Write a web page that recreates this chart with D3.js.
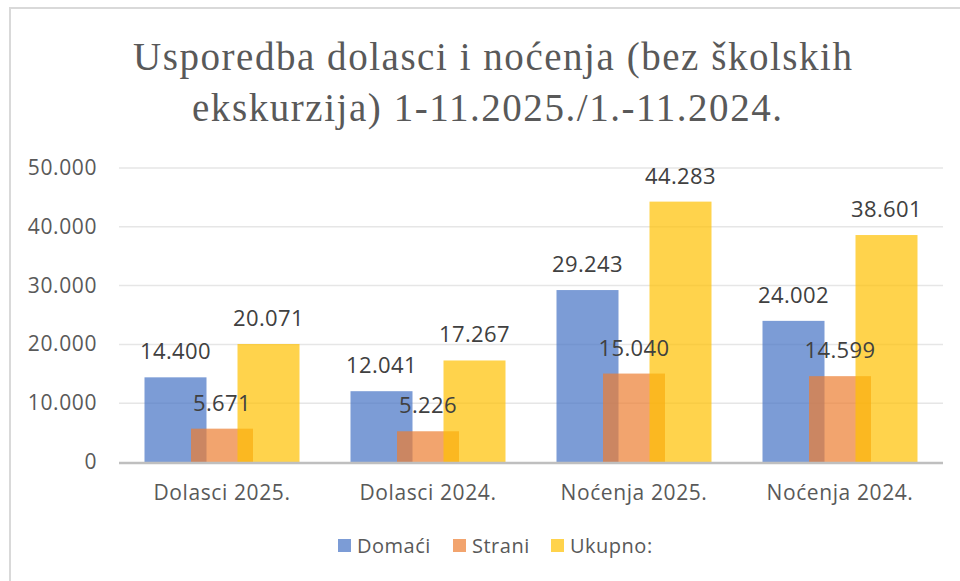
<!DOCTYPE html>
<html>
<head>
<meta charset="utf-8">
<script src="https://cdn.jsdelivr.net/npm/d3@7"></script>
<style>
  body { margin: 0; background: #fff; }
  svg { display: block; }
</style>
</head>
<body>
<script>
var categories = ["Dolasci 2025.", "Dolasci 2024.", "Noćenja 2025.", "Noćenja 2024."];
var seriesNames = ["Domaći", "Strani", "Ukupno:"];
var domaci = [14400, 12041, 29243, 24002];
var strani = [5671, 5226, 15040, 14599];
var ukupno = [20071, 17267, 44283, 38601];
var yTicks = [0, 10000, 20000, 30000, 40000, 50000];
var colors = ["#4472C4", "#ED7D31", "#FFC000"];

var W = 960, H = 581;
var svg = d3.select("body").append("svg").attr("width", W).attr("height", H);

// frame
svg.append("rect").attr("x", 10).attr("y", 8).attr("width", 960).attr("height", 600)
  .attr("fill", "#fff").attr("stroke", "#d9d9d9").attr("stroke-width", 2);

var fmt = d3.formatLocale({decimal: ",", thousands: ".", grouping: [3], currency: ["", ""]}).format(",d");
var sans = "'Open Sans', sans-serif";

// title
var title = svg.append("g").attr("fill", "#595959")
  .style("font-family", "'Liberation Serif', 'DejaVu Serif', serif").style("font-size", "39px");
title.append("text").attr("x", 133).attr("y", 70).attr("textLength", 719).attr("lengthAdjust", "spacing")
  .text("Usporedba dolasci i noćenja (bez školskih");
title.append("text").attr("x", 192).attr("y", 121).attr("textLength", 590).attr("lengthAdjust", "spacing")
  .text("ekskurzija) 1-11.2025./1.-11.2024.");

var x = d3.scaleBand().domain(categories).range([119, 943]);
var y = d3.scaleLinear().domain([0, 50000]).range([462, 168]);

// gridlines
svg.append("g").selectAll("line").data(yTicks.slice(1)).join("line")
  .attr("x1", 119).attr("x2", 943)
  .attr("y1", d => y(d)).attr("y2", d => y(d))
  .attr("stroke", "#e6e6e6").attr("stroke-width", 1.5);

// y labels
svg.append("g").selectAll("text").data(yTicks).join("text")
  .attr("x", 97).attr("y", d => y(d) + 7)
  .attr("text-anchor", "end").attr("fill", "#595959")
  .style("font-family", sans).style("font-size", "21px").style("letter-spacing", "0.6px")
  .text(d => fmt(d));

var series = [domaci, strani, ukupno];
var barW = 62, step = 46.5;

series.forEach(function(vals, si) {
  svg.append("g").selectAll("rect").data(vals).join("rect")
    .attr("x", (d, i) => x(categories[i]) + x.bandwidth() / 2 + (si - 1) * step - barW / 2)
    .attr("y", d => y(d))
    .attr("width", barW)
    .attr("height", d => y(0) - y(d))
    .attr("fill", colors[si]).attr("fill-opacity", 0.7);
});

series.forEach(function(vals, si) {
  svg.append("g").selectAll("text").data(vals).join("text")
    .attr("x", (d, i) => x(categories[i]) + x.bandwidth() / 2 + (si - 1) * step)
    .attr("y", d => y(d) - 18)
    .attr("text-anchor", "middle").attr("fill", "#404040")
    .style("font-family", sans).style("font-size", "22px").style("letter-spacing", "0.4px")
    .text(d => fmt(d));
});

// x axis line
svg.append("line").attr("x1", 119).attr("x2", 943).attr("y1", y(0) + 1).attr("y2", y(0) + 1)
  .attr("stroke", "#bfbfbf").attr("stroke-width", 2.5);

// category labels
svg.append("g").selectAll("text").data(categories).join("text")
  .attr("x", d => x(d) + x.bandwidth() / 2).attr("y", 500)
  .attr("text-anchor", "middle").attr("fill", "#595959")
  .style("font-family", sans).style("font-size", "21px").style("letter-spacing", "0.6px")
  .text(d => d);

// legend
var legX = [338, 453, 551];
var leg = svg.append("g").selectAll("g").data(seriesNames).join("g")
  .attr("transform", (d, i) => "translate(" + legX[i] + ",539)");
leg.append("rect").attr("width", 13).attr("height", 13)
  .attr("fill", (d, i) => colors[i]).attr("fill-opacity", 0.7);
leg.append("text").attr("x", 19).attr("y", 14)
  .attr("fill", "#595959")
  .style("font-family", sans).style("font-size", "20px").style("letter-spacing", "0.5px")
  .text(d => d);
</script>
</body>
</html>
